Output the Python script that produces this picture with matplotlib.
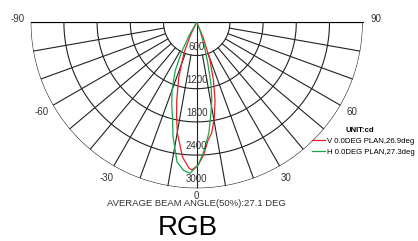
import numpy as np
from matplotlib import pyplot as plt

plt.rcParams['font.family'] = ['Liberation Sans', 'DejaVu Sans']

# polar candela curves (angle in deg, intensity in cd)
v_angles = [-30, -26, -22.6, -18, -14.4, -12, -9.9, -6, -3, -1.9, 0.6, 3, 5.5, 7.7, 10.5, 13.3, 16, 19.4, 23, 27]
v_cd = [0, 250, 600, 1050, 1450, 1750, 2030, 2450, 2640, 2670, 2580, 2400, 2140, 2020, 1750, 1440, 1100, 720, 300, 0]

h_angles = [-34, -30, -27, -24, -20, -16.8, -14, -11.8, -8, -5, -2.5, 0.6, 3, 6.3, 9, 11, 13, 15.3, 18, 22, 25]
h_cd = [0, 250, 600, 950, 1300, 1560, 1800, 2100, 2550, 2690, 2730, 2580, 2350, 2010, 1650, 1430, 1150, 750, 440, 150, 0]

rings = [600, 1200, 1800, 2400, 3000]
angle_labels = [-90, -60, -30, 0, 30, 60, 90]
v_label = 'V 0.0DEG PLAN,26.9deg'
h_label = 'H 0.0DEG PLAN,27.3deg'


def main():
    fig = plt.figure(figsize=(4.18, 2.41), dpi=100)
    # square box, the half wedge is centred in it
    side = 332
    ax = fig.add_axes([30.7 / 418, (241 - (22.3 - side / 4 + side)) / 241, side / 418, side / 241],
                      projection='polar')
    ax.set_theta_zero_location('S')
    ax.set_thetamin(-90)
    ax.set_thetamax(90)
    ax.set_ylim(0, 3000)
    ax.grid(False)
    ax.set_xticks([])
    ax.set_yticks([])
    for s in ax.spines.values():
        s.set_visible(False)

    grid_kw = dict(color='#222222', lw=0.8, zorder=1)
    t = np.radians(np.linspace(-90, 90, 361))
    for r in rings:
        ax.plot(t, np.full_like(t, r), **grid_kw)
    for a in range(-90, 91, 10):
        r0 = 0 if a in (-90, 0, 90) else rings[0]
        ax.plot([np.radians(a)] * 2, [r0, rings[-1]], **grid_kw)

    ax.plot(np.radians(v_angles), v_cd, color='#ea1f25', lw=0.9, label=v_label, zorder=3)
    ax.plot(np.radians(h_angles), h_cd, color='#1aa64c', lw=0.9, label=h_label, zorder=3)

    # ring values
    for r in rings:
        ax.text(0, r - 160, str(r), ha='center', va='center', fontsize=7, color='#333333', zorder=4)

    # angle values
    for a in angle_labels:
        if a == 0:
            ax.text(0, 3140, '0', ha='center', va='center', fontsize=7, color='#333333')
        else:
            aa = a + np.sign(a) * 1 if abs(a) == 90 else a
            ax.text(np.radians(aa), 3240, str(a), ha='center', va='center', fontsize=7, color='#333333')

    fig.text(345 / 418, 1 - 130.5 / 241, 'UNIT:cd', fontsize=5.6, fontweight='bold',
             ha='left', va='center')
    ax.legend(loc='upper left', bbox_to_anchor=(312 / 418, 1 - 137.5 / 241),
              bbox_transform=fig.transFigure, frameon=False, fontsize=5.6,
              handlelength=1.65, handletextpad=0.3, labelspacing=0.4,
              borderpad=0, borderaxespad=0)

    fig.text(196 / 418, 1 - 203.5 / 241, 'AVERAGE BEAM ANGLE(50%):27.1 DEG',
             ha='center', va='center', fontsize=6.8, color='#333333')
    fig.text(188 / 418, 1 - 228.3 / 241, 'RGB', ha='center', va='center', fontsize=20)

    fig.savefig('out.png', dpi=100)


if __name__ == "__main__":
    main()
